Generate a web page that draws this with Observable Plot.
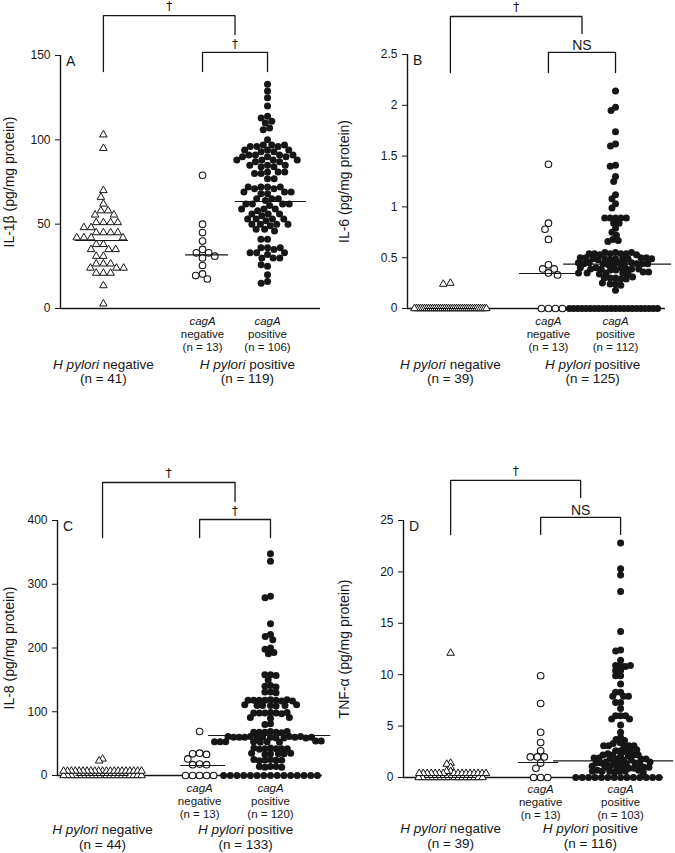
<!DOCTYPE html>
<html>
<head>
<meta charset="utf-8">
<script src="https://cdn.jsdelivr.net/npm/d3@7"></script>
<script src="https://cdn.jsdelivr.net/npm/@observablehq/plot@0.6"></script>
<style>
  body { margin: 0; background: #fff; }
  #chart { position: relative; width: 675px; height: 853px; background: #fff;
           font-family: "Liberation Sans", Arial, Helvetica, sans-serif; }
  #chart svg { position: absolute; }
</style>
</head>
<body>
<div id="chart"></div>
<script>
// ---------------- DATA ----------------
const groupNames = ["H pylori negative", "cagA negative", "cagA positive", "H pylori positive"];

// Panel A: IL-1β (pg/mg protein)
const il1b_hpNeg = [103, 95, 70, 66, 62, 58, 58, 55.5, 55.5, 51, 51, 51, 51, 48, 48, 45, 45, 45, 45,
  42, 42, 42, 42, 38, 38, 35, 35, 35, 31, 31, 26.5, 26.5, 26.5, 24, 24, 24, 21, 21, 21, 13.6, 2.8];
const il1b_cagNeg = [79, 50, 45, 40, 35, 33, 33, 31, 30, 25.5, 20.5, 19.5, 17.5];
const il1b_cagPos = [133, 129, 125, 120,
  114, 113, 111, 110, 107, 106,
  100,
  97, 97, 96, 96, 97, 96,
  94, 94, 93, 93, 94,
  91, 91, 90, 90, 91, 91, 90,
  88, 88, 87, 87, 88, 88,
  85, 85, 84, 84, 85,
  81, 81, 80, 80, 81,
  77, 77,
  72, 72, 71, 72, 71, 72,
  69, 69, 68, 69, 68,
  65, 65, 64, 65,
  62, 62, 61, 62, 62,
  59, 59, 58, 59,
  56, 56, 55, 56,
  53, 53, 52, 53, 53,
  50, 50, 49, 50, 50,
  47, 47, 46,
  41, 41,
  36, 36, 35, 36,
  33, 33, 32, 33,
  30, 30, 30,
  25, 26,
  20,
  16, 15];
const il1b_medians = [40.3, 31.8, 63.4];
const il1b_n = [41, 13, 106, 119];
const il1b_ticks = [0, 50, 100, 150];

// Panel B: IL-6 (pg/mg protein)
const il6_hpNeg = [0.25, 0.24,
  0, 0, 0, 0, 0, 0, 0, 0, 0, 0,
  0, 0, 0, 0, 0, 0, 0, 0, 0, 0,
  0, 0, 0, 0, 0, 0, 0, 0, 0, 0,
  0, 0, 0, 0, 0, 0, 0];
const il6_cagNeg = [1.42, 0.84, 0.78, 0.68, 0.43, 0.39, 0.39, 0.35, 0.33, 0, 0, 0, 0];
const il6_cagPos = [2.14, 1.98, 1.95, 1.74, 1.62, 1.60, 1.41, 1.40, 1.30, 1.25, 1.12, 1.08, 1.03, 0.99,
  0.89, 0.89, 0.89, 0.89, 0.89, 0.84, 0.84, 0.79, 0.75, 0.72, 0.68, 0.67, 0.66,
  0.55, 0.54, 0.54, 0.55, 0.54, 0.53, 0.55, 0.54, 0.53, 0.54,
  0.50, 0.49, 0.49, 0.50, 0.48, 0.49, 0.50, 0.49, 0.48, 0.49, 0.50, 0.49,
  0.45, 0.44, 0.44, 0.45, 0.43, 0.44, 0.45, 0.44, 0.43, 0.44, 0.45, 0.44,
  0.40, 0.39, 0.39, 0.40, 0.38, 0.39, 0.40, 0.39, 0.38, 0.39,
  0.35, 0.35, 0.34, 0.36, 0.35, 0.34, 0.36, 0.35,
  0.30, 0.30, 0.29, 0.31, 0.30, 0.29,
  0.24, 0.24, 0.23, 0.25,
  0.18,
  0, 0, 0, 0, 0, 0, 0, 0, 0, 0,
  0, 0, 0, 0, 0, 0, 0, 0, 0, 0,
  0, 0];
const il6_medians = [0, 0.345, 0.437];
const il6_n = [39, 13, 112, 125];
const il6_ticks = [0, 0.5, 1, 1.5, 2, 2.5];

// Panel C: IL-8 (pg/mg protein)
const il8_hpNeg = [26, 23,
  7, 7, 7, 7, 7, 7, 7, 7, 7, 7, 7, 7, 7, 7, 7, 7, 7, 7, 7, 7, 7,
  0, 0, 0, 0, 0, 0, 0, 0, 0, 0, 0, 0, 0, 0, 0, 0, 0, 0, 0, 0, 0];
const il8_cagNeg = [69, 35, 34, 33, 26, 18, 17, 17, 0, 0, 0, 0, 0];
const il8_cagPos = [348, 336, 281, 279, 238, 221, 218, 213, 200, 198, 193, 191,
  158, 158, 157, 150,
  141, 140, 139,
  131, 131, 130,
  119, 118, 118, 117, 118, 119, 118, 117, 118,
  111, 110, 110, 109, 110, 111, 110,
  99, 98, 98, 97, 98, 99, 98,
  91, 90, 91,
  81, 80,
  69, 68, 68, 67, 68, 69, 68,
  61, 60, 60, 59, 60, 61, 60, 59, 60, 61, 60, 59, 60, 60, 61,
  53, 52, 53, 54, 53, 52, 53, 54, 53,
  43, 42, 42, 41, 42, 43, 42,
  35, 34, 34, 33, 34, 35,
  25, 24, 24, 23, 24, 25,
  14, 13, 14, 13, 14,
  0, 0, 0, 0, 0, 0, 0, 0, 0, 0, 0, 0, 0, 0, 0];
const il8_medians = [0, 15.7, 62.7];
const il8_n = [44, 13, 120, 133];
const il8_ticks = [0, 100, 200, 300, 400];

// Panel D: TNF-α (pg/mg protein)
const tnf_hpNeg = [12.1, 1.4, 1.3, 1.0, 0.6, 0.6,
  0.4, 0.4, 0.4, 0.4, 0.4, 0.4, 0.4, 0.4, 0.4, 0.4, 0.4, 0.4, 0.4, 0.4, 0.4, 0.4,
  0, 0, 0, 0, 0, 0, 0, 0, 0, 0, 0, 0, 0, 0, 0, 0, 0];
const tnf_cagNeg = [9.9, 7.2, 4.4, 3.4, 2.6, 2.0, 2.0, 2.0, 1.4, 0.9, 0, 0, 0];
const tnf_cagPos = [22.8, 20.3, 19.7, 18.1, 14.2, 12.4, 12.3, 11.4, 10.9, 10.9, 10.8, 10.9, 10.4, 10.4,
  9.9, 9.9, 9.1, 8.3, 8.3, 7.9, 7.9, 7.9, 7.3, 7.3, 6.7, 6.0, 6.0, 6.0, 5.7, 5.7, 5.1, 4.4,
  3.9, 3.7, 3.6, 3.4, 3.3, 3.1, 3.1, 3.1, 3.1, 3.1,
  2.6, 2.6, 2.5, 2.7, 2.6,
  2.2, 2.2, 2.1, 2.3, 2.2, 2.2, 2.1,
  1.8, 1.8, 1.7, 1.9, 1.8, 1.8, 1.7, 1.9,
  1.4, 1.4, 1.3, 1.5, 1.4, 1.4, 1.3, 1.5, 1.4,
  1.0, 1.0, 0.9, 1.1, 1.0, 1.0, 0.9, 1.1, 1.0,
  0.6, 0.6, 0.5, 0.7, 0.6, 0.6, 0.5, 0.7, 0.6,
  0, 0, 0, 0, 0, 0, 0, 0, 0, 0, 0, 0, 0, 0];
const tnf_medians = [0, 1.46, 1.62];
const tnf_n = [39, 13, 103, 116];
const tnf_ticks = [0, 5, 10, 15, 20, 25];

// ---------------- STYLE / LAYOUT ----------------
const INK = "#161616";
const FONT = '"Liberation Sans", Arial, Helvetica, sans-serif';
const GROUP_STYLE = [
  {symbol: "triangle", fill: "white", stroke: INK, strokeWidth: 1.0, r: 2.8},
  {symbol: "circle", fill: "white", stroke: INK, strokeWidth: 1.1, r: 3.3},
  {symbol: "circle", fill: INK, stroke: "none", strokeWidth: 0, r: 3.5}
];

// spacing = centre-to-centre distance used by the dodge, [non-zero values, zero values]
const panels = [
  {key: "A", left: 0, top: 0, width: 335, height: 420,
   margin: {top: 55, right: 15, bottom: 112, left: 60},
   yDomain: [0, 150], ticks: il1b_ticks, yLabel: "IL-1β (pg/mg protein)",
   series: [il1b_hpNeg, il1b_cagNeg, il1b_cagPos], medians: il1b_medians, n: il1b_n,
   slots: [1.32, 4.37, 6.37], hPosSlot: 5.75,
   medianExt: [[0.86, 0.77], [0.52, 0.8], [0.99, 1.2]],
   spacing: [[7.2, 7.2], [7.0, 7.0], [6.6, 6.6]],
   bracket: {top: 173.7, legLow: 140.5, rightLow: 162.4, second: 151.8},
   sig: ["†", "†"], subDy: 25.5, mainDy: 62.75},
  {key: "B", left: 335, top: 0, width: 340, height: 420,
   margin: {top: 54, right: 10, bottom: 112, left: 72},
   yDomain: [0, 2.5], ticks: il6_ticks, yLabel: "IL-6 (pg/mg protein)",
   series: [il6_hpNeg, il6_cagNeg, il6_cagPos], medians: il6_medians, n: il6_n,
   slots: [1.33, 4.37, 6.45], hPosSlot: 5.74,
   medianExt: [[0.8, 0.8], [0.9, 0.84], [1.61, 1.74]],
   spacing: [[7.2, 2.0], [7.0, 7.0], [5.4, 4.2]],
   bracket: {top: 2.874, legLow: 2.323, rightLow: 2.707, second: 2.52},
   sig: ["†", "NS"], subDy: 25.5, mainDy: 62.75},
  {key: "C", left: 0, top: 420, width: 335, height: 433,
   margin: {top: 100, right: 13, bottom: 78, left: 57},
   yDomain: [0, 400], ticks: il8_ticks, yLabel: "IL-8 (pg/mg protein)",
   series: [il8_hpNeg, il8_cagNeg, il8_cagPos], medians: il8_medians, n: il8_n,
   slots: [1.36, 4.29, 6.43], hPosSlot: 5.68,
   medianExt: [[0.8, 0.8], [0.57, 0.78], [1.87, 1.82]],
   spacing: [[3.9, 3.9], [7.0, 7.0], [5.6, 6.7]],
   bracket: {top: 459.6, legLow: 373.3, rightLow: 429.8, second: 401.6},
   sig: ["†", "†"], subDy: 25.5, mainDy: 61.5},
  {key: "D", left: 335, top: 420, width: 340, height: 433,
   margin: {top: 100, right: 12, bottom: 76, left: 68},
   yDomain: [0, 25], ticks: tnf_ticks, yLabel: "TNF-α (pg/mg protein)",
   series: [tnf_hpNeg, tnf_cagNeg, tnf_cagPos], medians: tnf_medians, n: tnf_n,
   slots: [1.45, 4.22, 6.68], hPosSlot: 5.75,
   medianExt: [[0.8, 0.8], [0.68, 0.55], [2.06, 1.63]],
   spacing: [[4.0, 4.0], [7.0, 7.0], [5.0, 6.4]],
   bracket: {top: 28.9, legLow: 23.64, rightLow: 27.24, second: 25.3},
   sig: ["†", "NS"], subDy: 24.5, mainDy: 58.5}
];

// Beeswarm for one group: Plot's dodgeX, re-centred on the group's x position
function swarm(values, slot, st, spacing) {
  const rows = values.map(v => ({v}));
  return Plot.dot(rows, Plot.initializer(
    Plot.dodgeX({anchor: "middle", padding: 0, r: spacing / 2},
      {y: "v", r: st.r, symbol: st.symbol, fill: st.fill, stroke: st.stroke, strokeWidth: st.strokeWidth}),
    (data, facets, channels, scales, dims) => {
      const center = (dims.marginLeft + dims.width - dims.marginRight) / 2;
      const shift = scales.x(slot) - center;
      return {data, facets, channels: {x: {value: Float64Array.from(channels.x.value, px => px + shift)}}};
    }));
}

function panel(cfg) {
  const [sNeg, sCneg, sPos] = cfg.slots;
  const mid = (sCneg + sPos) / 2;
  const b = cfg.bracket;
  const marks = [];
  // axis lines
  marks.push(Plot.ruleY([0], {stroke: INK, strokeWidth: 1.4}));
  marks.push(Plot.ruleX([0], {stroke: INK, strokeWidth: 1.4}));
  // dots
  cfg.series.forEach((vals, i) => {
    const st = GROUP_STYLE[i];
    const [spNZ, spZ] = cfg.spacing[i];
    const z = vals.filter(v => v === 0);
    const nz = vals.filter(v => v !== 0);
    if (z.length) marks.push(swarm(z, cfg.slots[i], st, spZ));
    if (nz.length) marks.push(swarm(nz, cfg.slots[i], st, spNZ));
  });
  // medians
  marks.push(Plot.ruleY(cfg.medians.map((m, i) => ({m, x1: cfg.slots[i] - cfg.medianExt[i][0], x2: cfg.slots[i] + cfg.medianExt[i][1]})),
    {y: "m", x1: "x1", x2: "x2", stroke: INK, strokeWidth: 1.1}));
  // significance brackets
  marks.push(Plot.line([[sNeg, b.legLow], [sNeg, b.top], [mid, b.top], [mid, b.rightLow]],
    {stroke: INK, strokeWidth: 1.3, strokeLinejoin: "miter"}));
  marks.push(Plot.line([[sCneg, b.legLow], [sCneg, b.second], [sPos, b.second], [sPos, b.legLow]],
    {stroke: INK, strokeWidth: 1.3, strokeLinejoin: "miter"}));
  marks.push(Plot.text([{x: (sNeg + mid) / 2, y: b.top, t: cfg.sig[0]}],
    {x: "x", y: "y", text: "t", dy: -9, fontSize: 12, fontFamily: "DejaVu Sans", fill: INK}));
  marks.push(Plot.text([{x: mid, y: b.second, t: cfg.sig[1]}],
    {x: "x", y: "y", text: "t", dy: cfg.sig[1] === "NS" ? -7 : -8,
     fontSize: cfg.sig[1] === "NS" ? 14 : 12, fontFamily: cfg.sig[1] === "NS" ? FONT : "DejaVu Sans", fill: INK}));
  // panel letter
  marks.push(Plot.text([cfg.key], {frameAnchor: "top-left", dx: 5.5, dy: 6, textAnchor: "start", lineAnchor: "middle", fontSize: 14, fill: INK}));
  // y label
  marks.push(Plot.text([cfg.yLabel], {frameAnchor: "left", dx: 9 - cfg.margin.left, rotate: -90, textAnchor: "middle", lineAnchor: "middle", fontSize: 14, fill: INK}));
  // category labels (multi-line)
  const sub = [
    {x: sCneg, t: `cagA\nnegative\n(n = ${cfg.n[1]})`},
    {x: sPos, t: `cagA\npositive\n(n = ${cfg.n[2]})`}
  ];
  marks.push(Plot.text(sub, {x: "x", text: "t", frameAnchor: "bottom", dy: cfg.subDy, lineAnchor: "middle", lineHeight: 1.09, fontSize: 11.5, fill: INK}));
  const main = [
    {x: sNeg, t: `${groupNames[0]}\n(n = ${cfg.n[0]})`},
    {x: cfg.hPosSlot, t: `${groupNames[3]}\n(n = ${cfg.n[3]})`}
  ];
  marks.push(Plot.text(main, {x: "x", text: "t", frameAnchor: "bottom", dy: cfg.mainDy, lineAnchor: "middle", lineHeight: 1.07, fontSize: 13.5, fill: INK}));

  const svg = Plot.plot({
    width: cfg.width, height: cfg.height,
    marginTop: cfg.margin.top, marginRight: cfg.margin.right,
    marginBottom: cfg.margin.bottom, marginLeft: cfg.margin.left,
    style: {fontFamily: FONT, fontSize: "12px", color: INK, background: "transparent", overflow: "visible"},
    x: {domain: [0, 8], axis: null},
    y: {domain: cfg.yDomain, ticks: cfg.ticks, tickSize: 5, tickPadding: 5, tickFormat: d => String(d), label: null},
    marks
  });
  // italic parts: "cagA" and "H pylori"
  svg.querySelectorAll("text tspan").forEach(ts => {
    const s = ts.textContent;
    if (s === "cagA") {
      ts.setAttribute("font-style", "italic");
    } else if (s.startsWith("H pylori")) {
      ts.textContent = "";
      const it = document.createElementNS("http://www.w3.org/2000/svg", "tspan");
      it.setAttribute("font-style", "italic");
      it.textContent = "H pylori";
      ts.appendChild(it);
      ts.appendChild(document.createTextNode(s.slice(8)));
    }
  });
  svg.style.left = cfg.left + "px";
  svg.style.top = cfg.top + "px";
  return svg;
}

const chart = document.getElementById("chart");
for (const cfg of panels) chart.appendChild(panel(cfg));
</script>
</body>
</html>
